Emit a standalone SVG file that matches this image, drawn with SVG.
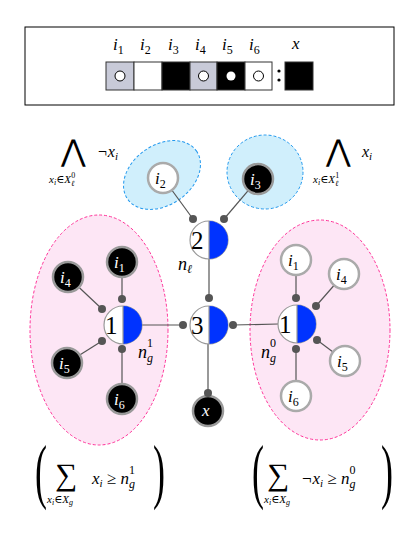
<svg xmlns="http://www.w3.org/2000/svg" width="420" height="533" viewBox="0 0 420 533">
<style>
.m{font-family:"Liberation Serif","DejaVu Serif",serif;font-style:italic;fill:#000}
.r{font-family:"Liberation Serif","DejaVu Serif",serif;fill:#000}
.w{fill:#fff}
.ln{stroke:#555;stroke-width:1.2;fill:none}
.dot{fill:#555}
.bn{fill:#000;stroke:#999;stroke-width:2.5}
.wn{fill:#fff;stroke:#aaa;stroke-width:2.5}
.hc{fill:#fff;stroke:#999;stroke-width:1.2}
.hb{fill:#0033ff}
.cell{stroke:#333;stroke-width:1}
.pk{fill:#fde6f5;stroke:#ff3399;stroke-width:1;stroke-dasharray:3,2}
.bl{fill:#d0effc;stroke:#2299ee;stroke-width:1;stroke-dasharray:3,2}
.par{font-family:"Liberation Serif","DejaVu Serif",serif;font-size:72px;fill:#000}
</style>
<rect width="420" height="533" fill="#fff"/>
<g id="legend">
<rect x="25" y="27" width="369" height="78" fill="#fff" stroke="#000" stroke-width="1"/>
<g class="m" font-size="17">
<text x="113" y="50">i<tspan font-size="12" dy="4" font-style="normal">1</tspan></text>
<text x="140" y="50">i<tspan font-size="12" dy="4" font-style="normal">2</tspan></text>
<text x="168" y="50">i<tspan font-size="12" dy="4" font-style="normal">3</tspan></text>
<text x="195" y="50">i<tspan font-size="12" dy="4" font-style="normal">4</tspan></text>
<text x="222" y="50">i<tspan font-size="12" dy="4" font-style="normal">5</tspan></text>
<text x="249" y="50">i<tspan font-size="12" dy="4" font-style="normal">6</tspan></text>
<text x="292" y="49">x</text>
</g>
<rect class="cell" x="106" y="62" width="28" height="28" fill="#c8cad8"/>
<rect class="cell" x="134" y="62" width="28" height="28" fill="#fff"/>
<rect class="cell" x="162" y="62" width="28" height="28" fill="#000"/>
<rect class="cell" x="190" y="62" width="27" height="28" fill="#c8cad8"/>
<rect class="cell" x="217" y="62" width="28" height="28" fill="#000"/>
<rect class="cell" x="245" y="62" width="27" height="28" fill="#fff"/>
<rect class="cell" x="285" y="62" width="28" height="28" fill="#000"/>
<circle cx="120" cy="76" r="5" fill="#fff" stroke="#000" stroke-width="1"/>
<circle cx="203.5" cy="76" r="5" fill="#fff" stroke="#000" stroke-width="1"/>
<circle cx="231" cy="76" r="4.5" fill="#fff"/>
<circle cx="258.5" cy="76" r="5" fill="#fff" stroke="#000" stroke-width="1"/>
<circle cx="279" cy="71" r="1.6" fill="#000"/>
<circle cx="279" cy="80" r="1.6" fill="#000"/>
</g>
<g id="groups">
<ellipse class="pk" cx="99" cy="330" rx="69" ry="115"/>
<ellipse class="pk" cx="320" cy="330" rx="70" ry="110"/>
<ellipse class="bl" cx="162" cy="175" rx="42" ry="30" transform="rotate(-35 162 175)"/>
<ellipse class="bl" cx="265" cy="172" rx="38" ry="37"/>
</g>
<g id="connectors">
<line class="ln" x1="163" y1="178" x2="193" y2="219"/>
<line class="ln" x1="258" y1="179" x2="224" y2="219"/>
<line class="ln" x1="209" y1="259" x2="209" y2="298"/>
<line class="ln" x1="142" y1="325" x2="183" y2="325"/>
<line class="ln" x1="233" y1="325" x2="278" y2="324"/>
<line class="ln" x1="208" y1="344" x2="208" y2="393"/>
<line class="ln" x1="122" y1="262" x2="122" y2="299"/>
<line class="ln" x1="68" y1="277" x2="102" y2="309"/>
<line class="ln" x1="67" y1="363" x2="102" y2="341"/>
<line class="ln" x1="122" y1="399" x2="122" y2="349"/>
<line class="ln" x1="296" y1="260" x2="296" y2="298"/>
<line class="ln" x1="344" y1="274" x2="316" y2="306"/>
<line class="ln" x1="345" y1="361" x2="317" y2="340"/>
<line class="ln" x1="296" y1="396" x2="296" y2="349"/>
</g>
<g id="node-i2"><circle class="wn" cx="163" cy="178" r="15"/><text class="m" x="155" y="184" font-size="17">i<tspan font-size="12" dy="4" font-style="normal">2</tspan></text></g>
<g id="node-i3"><circle class="bn" cx="258" cy="179" r="15"/><text class="m w" x="250" y="185" font-size="17">i<tspan font-size="12" dy="4" font-style="normal">3</tspan></text></g>
<g id="node-L-i1"><circle class="bn" cx="122" cy="262" r="15"/><text class="m w" x="114" y="268" font-size="17">i<tspan font-size="12" dy="4" font-style="normal">1</tspan></text></g>
<g id="node-L-i4"><circle class="bn" cx="68" cy="277" r="15"/><text class="m w" x="60" y="283" font-size="17">i<tspan font-size="12" dy="4" font-style="normal">4</tspan></text></g>
<g id="node-L-i5"><circle class="bn" cx="67" cy="363" r="15"/><text class="m w" x="59" y="369" font-size="17">i<tspan font-size="12" dy="4" font-style="normal">5</tspan></text></g>
<g id="node-L-i6"><circle class="bn" cx="122" cy="399" r="15"/><text class="m w" x="114" y="405" font-size="17">i<tspan font-size="12" dy="4" font-style="normal">6</tspan></text></g>
<g id="node-R-i1"><circle class="wn" cx="296" cy="260" r="15"/><text class="m" x="288" y="266" font-size="17">i<tspan font-size="12" dy="4" font-style="normal">1</tspan></text></g>
<g id="node-R-i4"><circle class="wn" cx="344" cy="274" r="15"/><text class="m" x="336" y="280" font-size="17">i<tspan font-size="12" dy="4" font-style="normal">4</tspan></text></g>
<g id="node-R-i5"><circle class="wn" cx="345" cy="361" r="15"/><text class="m" x="337" y="367" font-size="17">i<tspan font-size="12" dy="4" font-style="normal">5</tspan></text></g>
<g id="node-R-i6"><circle class="wn" cx="296" cy="396" r="15"/><text class="m" x="288" y="402" font-size="17">i<tspan font-size="12" dy="4" font-style="normal">6</tspan></text></g>
<g id="node-x"><circle class="bn" cx="208" cy="411" r="15"/><text class="m w" x="202" y="416" font-size="17">x</text></g>
<g id="node-2">
<circle class="hc" cx="209" cy="240" r="19"/>
<path class="hb" d="M209,221 A19,19 0 0 1 209,259 Z"/>
<line x1="209" y1="221" x2="209" y2="259" stroke="#999" stroke-width="1.2"/>
<text class="r" x="191" y="249" font-size="25">2</text>
</g>
<g id="node-3">
<circle class="hc" cx="209" cy="325" r="19"/>
<path class="hb" d="M209,306 A19,19 0 0 1 209,344 Z"/>
<line x1="209" y1="306" x2="209" y2="344" stroke="#999" stroke-width="1.2"/>
<text class="r" x="191" y="334" font-size="25">3</text>
</g>
<g id="node-L1">
<circle class="hc" cx="123" cy="325" r="19"/>
<path class="hb" d="M123,306 A19,19 0 0 1 123,344 Z"/>
<line x1="123" y1="306" x2="123" y2="344" stroke="#999" stroke-width="1.2"/>
<text class="r" x="105" y="334" font-size="25">1</text>
</g>
<g id="node-R1">
<circle class="hc" cx="297" cy="324" r="19"/>
<path class="hb" d="M297,305 A19,19 0 0 1 297,343 Z"/>
<line x1="297" y1="305" x2="297" y2="343" stroke="#999" stroke-width="1.2"/>
<text class="r" x="279" y="333" font-size="25">1</text>
</g>
<g id="dots" class="dot">
<circle cx="193" cy="219" r="4"/><circle cx="224" cy="219" r="4"/>
<circle cx="209" cy="298" r="4"/><circle cx="183" cy="325" r="4"/>
<circle cx="233" cy="325" r="4"/><circle cx="208" cy="393" r="4"/>
<circle cx="122" cy="299" r="4"/><circle cx="102" cy="309" r="4"/>
<circle cx="102" cy="341" r="4"/><circle cx="122" cy="349" r="4"/>
<circle cx="296" cy="298" r="4"/><circle cx="316" cy="306" r="4"/>
<circle cx="317" cy="340" r="4"/><circle cx="296" cy="349" r="4"/>
</g>
<g id="labels">
<text class="m" x="178" y="270" font-size="18">n<tspan font-size="12" dy="3">ℓ</tspan></text>
<text class="m" x="138" y="358" font-size="18">n<tspan font-size="12" dy="-11" font-style="normal">1</tspan><tspan font-size="12" dx="-6" dy="15">g</tspan></text>
<text class="m" x="261" y="358" font-size="18">n<tspan font-size="12" dy="-11" font-style="normal">0</tspan><tspan font-size="12" dx="-6" dy="15">g</tspan></text>
<text class="r" x="61" y="161" font-size="30">⋀</text>
<text class="m" x="97" y="157" font-size="16">¬x<tspan font-size="11" dy="3">i</tspan></text>
<text class="m" x="49" y="183" font-size="11">x<tspan font-size="8" dy="2">i</tspan><tspan dy="-2" font-style="normal">∈</tspan>X<tspan font-size="8" dy="3">ℓ</tspan><tspan font-size="8" dx="-3" dy="-8" font-style="normal">0</tspan></text>
<text class="r" x="326" y="161" font-size="30">⋀</text>
<text class="m" x="362" y="157" font-size="16">x<tspan font-size="11" dy="3">i</tspan></text>
<text class="m" x="313" y="183" font-size="11">x<tspan font-size="8" dy="2">i</tspan><tspan dy="-2" font-style="normal">∈</tspan>X<tspan font-size="8" dy="3">ℓ</tspan><tspan font-size="8" dx="-3" dy="-8" font-style="normal">1</tspan></text>
<text class="par" transform="translate(35 495) scale(0.5 1)">(</text>
<text class="r" x="55" y="485" font-size="31">∑</text>
<text class="m" x="47" y="503" font-size="11">x<tspan font-size="8" dy="2">i</tspan><tspan dy="-2" font-style="normal">∈</tspan>X<tspan font-size="8" dy="2">g</tspan></text>
<text class="m" x="92" y="484" font-size="17">x<tspan font-size="11" dy="3">i</tspan><tspan dy="-3" font-style="normal"> ≥ </tspan>n<tspan font-size="12" dy="-10" font-style="normal">1</tspan><tspan font-size="12" dx="-6" dy="14">g</tspan></text>
<text class="par" transform="translate(153 495) scale(0.5 1)">)</text>
<text class="par" transform="translate(252 495) scale(0.5 1)">(</text>
<text class="r" x="267" y="485" font-size="31">∑</text>
<text class="m" x="264" y="503" font-size="11">x<tspan font-size="8" dy="2">i</tspan><tspan dy="-2" font-style="normal">∈</tspan>X<tspan font-size="8" dy="2">g</tspan></text>
<text class="m" x="301" y="484" font-size="17">¬x<tspan font-size="11" dy="3">i</tspan><tspan dy="-3" font-style="normal"> ≥ </tspan>n<tspan font-size="12" dy="-10" font-style="normal">0</tspan><tspan font-size="12" dx="-6" dy="14">g</tspan></text>
<text class="par" transform="translate(381 495) scale(0.5 1)">)</text>
</g>
</svg>
